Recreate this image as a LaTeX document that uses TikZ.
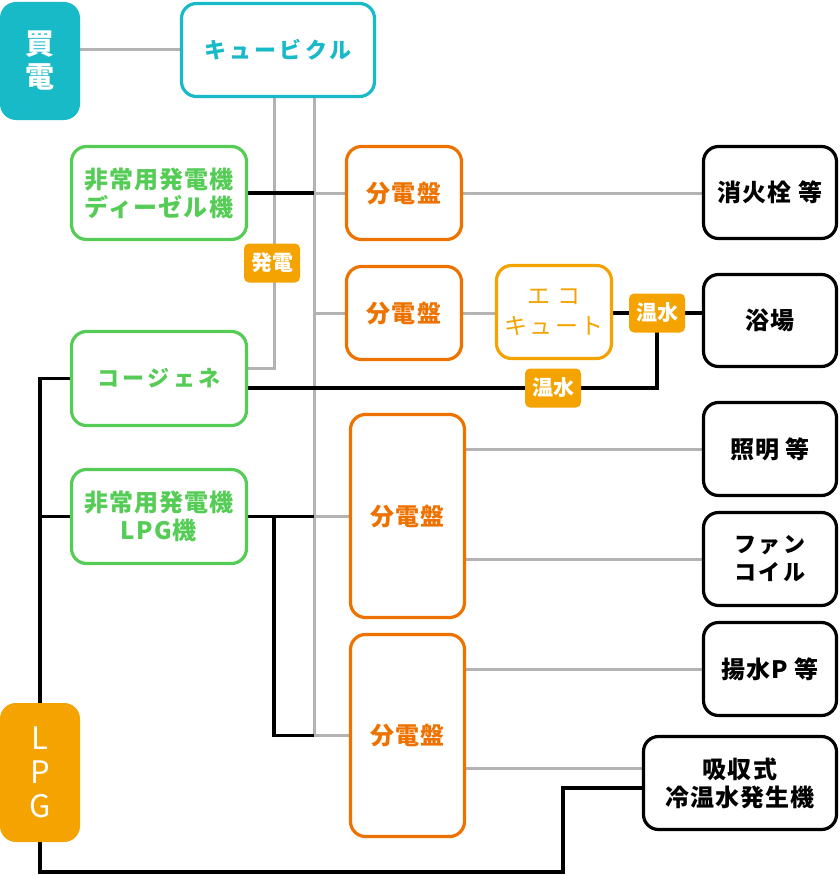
\documentclass[tikz,border=0pt]{standalone}
\usepackage{fontspec}
\setmainfont{Noto Sans CJK JP}
\usetikzlibrary{backgrounds}
\definecolor{cteal}{HTML}{18BAC8}
\definecolor{cgreen}{HTML}{55CC55}
\definecolor{corange}{HTML}{EE7200}
\definecolor{clight}{HTML}{F5A300}
\definecolor{cgray}{HTML}{B3B3B3}
\begin{document}
\begin{tikzpicture}[x=1pt,y=-1pt,
  box/.style={draw, line width=3.2pt, rounded corners=15pt, align=center, inner sep=0pt, fill=white,
    font=\bfseries\fontsize{24}{28}\selectfont\addfontfeature{LetterSpace=5}},
  tag/.style={fill=clight, rounded corners=5pt, inner sep=0pt, minimum width=56pt, minimum height=39pt,
    text=white, font=\bfseries\fontsize{21}{22}\selectfont},
  graywire/.style={draw=cgray, line width=3pt},
  blackwire/.style={draw=black, line width=3.4pt}]
\useasboundingbox (0,0) rectangle (840,875);

% sources
\node[fill=cteal, rounded corners=16pt, minimum width=80pt, minimum height=118pt, inner sep=0pt,
  text=white, align=center, font=\bfseries\fontsize{29}{33}\selectfont] (baiden) at (40,61) {買\\電};
\node[fill=clight, rounded corners=16pt, minimum width=80pt, minimum height=139pt, inner sep=0pt,
  text=white, align=center, font=\fontsize{31}{34}\selectfont] (lpg) at (40,772.5) {L\\P\\G};

% boxes
\node[box, draw=cteal, text=cteal, minimum width=193pt, minimum height=93pt,
  font=\bfseries\fontsize{22}{28}\selectfont\addfontfeature{LetterSpace=15}] (cubicle) at (278,50) {キュービクル};
\node[box, draw=cgreen, text=cgreen, minimum width=175pt, minimum height=93pt] (diesel) at (159,193) {非常用発電機\\ディーゼル機};
\node[box, draw=cgreen, text=cgreen, minimum width=175pt, minimum height=94pt,
  font=\bfseries\fontsize{22}{28}\selectfont\addfontfeature{LetterSpace=15}] (cogen) at (159,378.5) {コージェネ};
\node[box, draw=cgreen, text=cgreen, minimum width=175pt, minimum height=94pt] (lpggen) at (159,516.5) {非常用発電機\\LPG機};

\node[box, draw=corange, text=corange, minimum width=115pt, minimum height=93pt] (bun1) at (404,193) {分電盤};
\node[box, draw=corange, text=corange, minimum width=115pt, minimum height=93pt] (bun2) at (404,313) {分電盤};
\node[box, draw=corange, text=corange, minimum width=114pt, minimum height=203pt] (bun3) at (407.5,516) {分電盤};
\node[box, draw=corange, text=corange, minimum width=114pt, minimum height=202pt] (bun4) at (407.5,735.5) {分電盤};

\node[box, draw=clight, text=clight, minimum width=115pt, minimum height=93pt,
  font=\fontsize{23}{30}\selectfont\addfontfeature{LetterSpace=10}] (eco) at (554,312) {エ コ\\キュート};

\node[box, minimum width=133pt, minimum height=92pt] (shoka) at (770,192.5) {消火栓 等};
\node[box, minimum width=133pt, minimum height=92pt] (yokujo) at (770,320.5) {浴場};
\node[box, minimum width=133pt, minimum height=93pt] (shomei) at (770,449) {照明 等};
\node[box, minimum width=133pt, minimum height=93pt,
  font=\bfseries\fontsize{22}{28}\selectfont\addfontfeature{LetterSpace=12}] (fan) at (770,559) {ファン\\コイル};
\node[box, minimum width=133pt, minimum height=93pt] (yosui) at (770,669) {揚水P 等};
\node[box, minimum width=193pt, minimum height=93pt] (kyushu) at (740,783) {吸収式\\冷温水発生機};

% labels
\node[tag] (hatsuden) at (272,263) {発電};
\node[tag] (onsui1) at (657,313) {温水};
\node[tag] (onsui2) at (553,388) {温水};

% helper coordinates
\coordinate (xA) at (274,0);
\coordinate (xB) at (314,0);
\coordinate (xC) at (563,872);
\coordinate (k1) at ([yshift=15pt]kyushu.west);
\coordinate (k2) at ([yshift=-5pt]kyushu.west);
\coordinate (c1) at ([yshift=10.5pt]cogen.east);
\coordinate (c2) at ([yshift=-9.5pt]cogen.east);

\begin{pgfonlayer}{background}
  % gray power wires
  \path[graywire] (cubicle.west) -- (cubicle.west -| baiden.east);
  \path[graywire] (cubicle.south -| xA) |- (c1);
  \path[graywire] (cubicle.south -| xB) |- (bun4.west);
  \path[graywire] (diesel.east -| xB) -- (diesel.east -| bun1.west);
  \path[graywire] (bun1.east) -- (bun1.east -| shoka.west);
  \path[graywire] (bun2.west -| xB) -- (bun2.west);
  \path[graywire] (bun2.east) -- (bun2.east -| eco.west);
  \path[graywire] (lpggen.east -| xB) -- (lpggen.east -| bun3.west);
  \path[graywire] (shomei.west -| bun3.east) -- (shomei.west);
  \path[graywire] (fan.west -| bun3.east) -- (fan.west);
  \path[graywire] (yosui.west -| bun4.east) -- (yosui.west);
  \path[graywire] (k1 -| bun4.east) -- (k1);
  % black wires
  \path[blackwire] (diesel.east) -- (diesel.east -| xB);
  \path[blackwire] (lpggen.east) -- (lpggen.east -| xB);
  \path[blackwire] (lpggen.east -| xA) |- (bun4.west -| xB);
  \path[blackwire] (cogen.west) -| (lpg.north);
  \path[blackwire] (lpggen.west) -- (lpggen.west -| lpg.north);
  \path[blackwire] (eco.east |- onsui1) -- (onsui1 -| yokujo.west);
  \path[blackwire] (onsui1.center) |- (c2);
  \path[blackwire] (k2) -| (xC) -| (lpg.south);
\end{pgfonlayer}
\end{tikzpicture}
\end{document}
